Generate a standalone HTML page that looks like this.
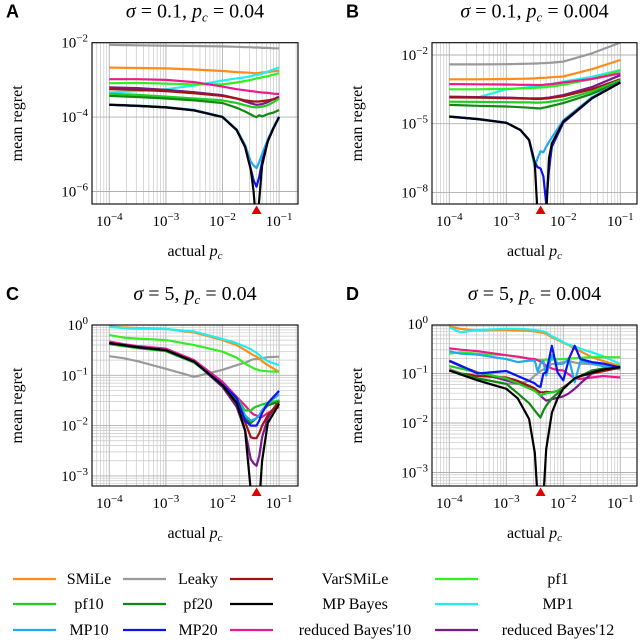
<!DOCTYPE html>
<html><head><meta charset="utf-8"><style>
html,body{margin:0;padding:0;background:#fff;}
svg{display:block;font-family:"Liberation Serif",serif;}
</style></head><body>
<svg id="fig" width="640" height="640" viewBox="0 0 640 640" xmlns="http://www.w3.org/2000/svg"></svg>
<script>
// ---- data (x: log10 actual p_c, y: log10 mean regret) ----
const seriesNames = ["SMiLe","Leaky","VarSMiLe","pf1","pf10","pf20","MP Bayes","MP1","MP10","MP20","reduced Bayes'10","reduced Bayes'12"];
const seriesColors = ["#ff8c1a","#9a9a9a","#a01414","#33ee22","#22cc22","#118811","#000000","#22eeee","#22aaee","#0a14ee","#ee1a8c","#7a1a8a"];

const xA = [-4,-3.5,-3,-2.5,-2,-1.75,-1.6,-1.5,-1.45,-1.4,-1.35,-1.3,-1.2,-1.1,-1];
const A_SMiLe = [-2.67,-2.68,-2.69,-2.72,-2.76,-2.79,-2.8,-2.81,-2.82,-2.82,-2.81,-2.8,-2.79,-2.77,-2.75];
const A_Leaky = [-2.06,-2.07,-2.08,-2.09,-2.1,-2.11,-2.12,-2.12,-2.13,-2.13,-2.13,-2.14,-2.14,-2.15,-2.15];
const A_VarSMiLe = [-3.25,-3.27,-3.3,-3.36,-3.43,-3.5,-3.55,-3.57,-3.58,-3.58,-3.58,-3.57,-3.55,-3.52,-3.48];
const A_pf1 = [-3.09,-3.08,-3.1,-3.12,-3.12,-3.07,-3.03,-3.0,-2.98,-2.96,-2.95,-2.93,-2.9,-2.86,-2.82];
const A_pf10 = [-3.37,-3.4,-3.45,-3.5,-3.55,-3.62,-3.68,-3.72,-3.73,-3.74,-3.73,-3.72,-3.68,-3.6,-3.5];
const A_pf20 = [-3.43,-3.46,-3.5,-3.55,-3.62,-3.75,-3.85,-3.93,-3.97,-4.0,-3.95,-3.98,-3.92,-3.88,-3.81];
const A_MPBayes = [-3.67,-3.7,-3.74,-3.82,-4.0,-4.35,-4.8,-5.42,-6.0,-7.0,-6.2,-5.3,-4.65,-4.3,-4.0];
const A_MP1 = [-3.34,-3.3,-3.25,-3.15,-3.02,-2.96,-2.93,-2.9,-2.88,-2.87,-2.85,-2.83,-2.78,-2.72,-2.67];
const A_MP10 = [-3.66,-3.69,-3.73,-3.81,-3.99,-4.33,-4.75,-5.2,-5.3,-5.37,-5.2,-5.0,-4.6,-4.28,-3.98];
const A_MP20 = [-3.67,-3.7,-3.74,-3.82,-4.0,-4.35,-4.8,-5.4,-5.7,-5.87,-5.6,-5.2,-4.65,-4.3,-4.0];
const A_rB10 = [-2.98,-2.98,-3.0,-3.06,-3.18,-3.25,-3.28,-3.3,-3.31,-3.32,-3.33,-3.34,-3.35,-3.37,-3.38];
const A_rB12 = [-3.2,-3.22,-3.27,-3.33,-3.41,-3.5,-3.58,-3.63,-3.65,-3.67,-3.66,-3.65,-3.6,-3.52,-3.45];

const xB = [-4,-3.5,-3,-2.75,-2.6,-2.5,-2.45,-2.4,-2.35,-2.3,-2.25,-2.2,-2,-1.5,-1];
const B_SMiLe = [-3.06,-3.06,-3.05,-3.04,-3.03,-3.02,-3.01,-3.0,-3.0,-2.99,-2.98,-2.97,-2.94,-2.62,-2.22];
const B_Leaky = [-2.41,-2.41,-2.4,-2.39,-2.38,-2.37,-2.37,-2.36,-2.36,-2.35,-2.34,-2.33,-2.29,-1.93,-1.46];
const B_VarSMiLe = [-3.85,-3.86,-3.88,-3.9,-3.91,-3.92,-3.92,-3.92,-3.91,-3.9,-3.89,-3.87,-3.8,-3.5,-3.06];
const B_pf1 = [-3.5,-3.5,-3.48,-3.46,-3.45,-3.44,-3.43,-3.42,-3.41,-3.4,-3.38,-3.37,-3.3,-3.05,-2.68];
const B_pf10 = [-4.04,-4.05,-4.06,-4.07,-4.07,-4.08,-4.08,-4.08,-4.07,-4.06,-4.05,-4.03,-3.95,-3.6,-3.1];
const B_pf20 = [-4.18,-4.22,-4.25,-4.28,-4.3,-4.32,-4.33,-4.33,-4.3,-4.28,-4.25,-4.22,-4.1,-3.7,-3.16];
const B_MPBayes = [-4.69,-4.8,-4.96,-5.28,-5.71,-6.73,-9,-9,-9,-9,-6.5,-5.86,-4.91,-3.89,-3.2];
const B_MP1 = [-3.82,-3.85,-3.5,-3.45,-3.4,-3.36,-3.35,-3.34,-3.32,-3.3,-3.28,-3.26,-3.16,-2.95,-2.65];
const B_MP10 = [-4.68,-4.79,-4.95,-5.27,-5.71,-6.9,-6.5,-6.2,-6.25,-6.0,-5.8,-5.6,-4.85,-3.85,-3.18];
const B_MP20 = [-4.69,-4.8,-4.96,-5.28,-5.71,-6.7,-6.9,-6.95,-7.3,-8.5,-7.0,-6.0,-4.95,-3.9,-3.2];
const B_rB10 = [-3.27,-3.28,-3.29,-3.3,-3.3,-3.31,-3.31,-3.31,-3.3,-3.29,-3.28,-3.27,-3.2,-3.05,-2.8];
const B_rB12 = [-3.82,-3.84,-3.86,-3.88,-3.89,-3.89,-3.89,-3.89,-3.88,-3.87,-3.86,-3.84,-3.75,-3.4,-2.88];

const xC = [-4,-3.75,-3.5,-3,-2.5,-2,-1.75,-1.6,-1.5,-1.45,-1.4,-1.35,-1.3,-1.2,-1];
const C_SMiLe = [-0.03,-0.05,-0.06,-0.08,-0.15,-0.3,-0.4,-0.5,-0.57,-0.6,-0.63,-0.67,-0.72,-0.8,-0.93];
const C_Leaky = [-0.62,-0.66,-0.72,-0.87,-1.03,-0.89,-0.8,-0.75,-0.7,-0.68,-0.68,-0.67,-0.66,-0.64,-0.63];
const C_VarSMiLe = [-0.36,-0.4,-0.44,-0.5,-0.73,-1.2,-1.55,-1.93,-2.23,-2.25,-2.25,-2.15,-2.0,-1.8,-1.53];
const C_pf1 = [-0.2,-0.25,-0.27,-0.3,-0.4,-0.53,-0.65,-0.77,-0.83,-0.86,-0.88,-0.9,-0.91,-0.92,-0.93];
const C_pf10 = [-0.38,-0.42,-0.46,-0.52,-0.75,-1.18,-1.45,-1.7,-1.7,-1.65,-1.62,-1.6,-1.58,-1.55,-1.5];
const C_pf20 = [-0.37,-0.41,-0.45,-0.51,-0.74,-1.2,-1.5,-1.85,-1.95,-1.9,-1.85,-1.8,-1.7,-1.6,-1.52];
const C_MPBayes = [-0.36,-0.4,-0.44,-0.5,-0.73,-1.2,-1.55,-2.1,-3.3,-3.5,-3.5,-3.5,-2.7,-1.95,-1.57];
const C_MP1 = [-0.04,-0.06,-0.07,-0.08,-0.13,-0.28,-0.36,-0.43,-0.48,-0.52,-0.55,-0.6,-0.65,-0.72,-0.8];
const C_MP10 = [-0.36,-0.4,-0.44,-0.5,-0.73,-1.18,-1.45,-1.8,-1.9,-1.88,-1.85,-1.8,-1.7,-1.55,-1.38];
const C_MP20 = [-0.36,-0.4,-0.44,-0.5,-0.73,-1.18,-1.45,-1.9,-2.0,-2.0,-2.0,-1.9,-1.75,-1.55,-1.31];
const C_rB10 = [-0.33,-0.38,-0.42,-0.47,-0.7,-1.13,-1.43,-1.6,-1.73,-1.78,-1.8,-1.83,-1.83,-1.75,-1.63];
const C_rB12 = [-0.36,-0.4,-0.44,-0.5,-0.73,-1.23,-1.63,-2.1,-2.67,-2.75,-2.8,-2.6,-2.23,-1.85,-1.5];

const xD = [-4,-3.8,-3.5,-3,-2.8,-2.6,-2.5,-2.45,-2.4,-2.35,-2.3,-2.2,-2.1,-2,-1.9,-1.8,-1.7,-1.5,-1.3,-1];
const D_SMiLe = [-0.05,-0.1,-0.13,-0.12,-0.13,-0.14,-0.15,-0.16,-0.17,-0.18,-0.2,-0.27,-0.32,-0.38,-0.43,-0.5,-0.55,-0.67,-0.75,-0.85];
const D_Leaky = [-0.9,-1.0,-1.1,-1.21,-1.21,-1.15,-1.04,-1.0,-0.95,-0.92,-0.88,-0.81,-0.8,-0.77,-0.75,-0.78,-0.8,-0.81,-0.85,-0.92];
const D_VarSMiLe = [-0.94,-1.0,-1.05,-1.08,-1.15,-1.25,-1.3,-1.35,-1.38,-1.38,-1.37,-1.38,-1.35,-1.28,-1.2,-1.1,-1.05,-1.0,-0.95,-0.88];
const D_pf1 = [-0.6,-0.57,-0.6,-0.63,-0.66,-0.7,-0.72,-0.73,-0.73,-0.73,-0.72,-0.72,-0.71,-0.71,-0.7,-0.69,-0.68,-0.67,-0.67,-0.67];
const D_pf10 = [-0.85,-0.9,-0.98,-1.1,-1.2,-1.3,-1.35,-1.4,-1.45,-1.42,-1.4,-1.38,-1.35,-1.3,-1.2,-1.1,-1.05,-0.95,-0.9,-0.85];
const D_pf20 = [-0.94,-1.0,-1.1,-1.21,-1.4,-1.6,-1.75,-1.82,-1.89,-1.75,-1.65,-1.5,-1.4,-1.31,-1.2,-1.1,-1.05,-0.94,-0.9,-0.88];
const D_MPBayes = [-0.94,-1.02,-1.14,-1.31,-1.5,-1.92,-2.6,-3.5,-3.5,-3.5,-2.53,-1.79,-1.5,-1.31,-1.2,-1.1,-1.05,-0.98,-0.92,-0.87];
const D_MP1 = [-0.07,-0.17,-0.12,-0.1,-0.1,-0.11,-0.12,-0.13,-0.14,-0.15,-0.17,-0.25,-0.3,-0.37,-0.42,-0.45,-0.5,-0.57,-0.65,-0.81];
const D_MP10 = [-0.55,-0.6,-0.62,-0.71,-0.77,-0.74,-0.74,-0.96,-0.8,-0.75,-1.04,-0.63,-0.81,-0.8,-0.71,-1.18,-0.75,-0.8,-0.85,-0.88];
const D_MP20 = [-0.74,-0.84,-1.0,-0.95,-1.05,-1.15,-1.2,-1.25,-1.27,-1.0,-0.98,-0.44,-0.98,-1.14,-0.7,-0.44,-0.71,-0.77,-0.8,-0.88];
const D_rB10 = [-0.49,-0.52,-0.55,-0.63,-0.66,-0.7,-0.71,-0.73,-0.76,-0.8,-0.84,-0.9,-0.93,-0.94,-1.02,-1.1,-1.11,-1.08,-1.05,-1.08];
const D_rB12 = [-0.75,-0.85,-0.98,-1.14,-1.2,-1.25,-1.31,-1.38,-1.45,-1.5,-1.55,-1.52,-1.49,-1.46,-1.4,-1.31,-1.2,-1.0,-0.95,-0.88];

const xTickExps = [-4,-3,-2,-1];
const yTicksAB = [[-2,-4,-6],[-2,-5,-8]];
const yTicksCD = [0,-1,-2,-3];
const markerPc = [0.04,0.004,0.04,0.004];

const NS = "http://www.w3.org/2000/svg";
const svg = document.getElementById("fig");
function el(tag, attrs, parent){
  const e = document.createElementNS(NS, tag);
  for (const k in attrs) e.setAttribute(k, attrs[k]);
  (parent||svg).appendChild(e);
  return e;
}

const panels = [
  {id:"a", letter:"A", sig:"0.1", pc:"0.04", bx:92, bw:206, by:42.7, bh:161.3, x0:109.3, dec:56.6, yRef:-2, yRefPx:42.7, ydec:37.2, yt:yTicksAB[0], minorY:false, xs:xA,
   ser:[A_SMiLe,A_Leaky,A_VarSMiLe,A_pf1,A_pf10,A_pf20,A_MPBayes,A_MP1,A_MP10,A_MP20,A_rB10,A_rB12]},
  {id:"b", letter:"B", sig:"0.1", pc:"0.004", bx:432, bw:205, by:42.7, bh:161.3, x0:449.3, dec:57, yRef:-2, yRefPx:55, ydec:22.9, yt:yTicksAB[1], minorY:false, xs:xB,
   ser:[B_SMiLe,B_Leaky,B_VarSMiLe,B_pf1,B_pf10,B_pf20,B_MPBayes,B_MP1,B_MP10,B_MP20,B_rB10,B_rB12]},
  {id:"c", letter:"C", sig:"5", pc:"0.04", bx:92, bw:206, by:325, bh:161, x0:109.3, dec:56.6, yRef:0, yRefPx:325, ydec:50.3, yt:yTicksCD, minorY:true, xs:xC,
   ser:[C_SMiLe,C_Leaky,C_VarSMiLe,C_pf1,C_pf10,C_pf20,C_MPBayes,C_MP1,C_MP10,C_MP20,C_rB10,C_rB12]},
  {id:"d", letter:"D", sig:"5", pc:"0.004", bx:432, bw:205, by:325, bh:161, x0:449.3, dec:57, yRef:0, yRefPx:324, ydec:49.5, yt:yTicksCD, minorY:true, xs:xD,
   ser:[D_SMiLe,D_Leaky,D_VarSMiLe,D_pf1,D_pf10,D_pf20,D_MPBayes,D_MP1,D_MP10,D_MP20,D_rB10,D_rB12]}
];
const drawOrder = [1,0,7,3,10,11,2,4,5,8,9,6];

panels.forEach((p, pi) => {
  const X = e => p.x0 + (e + 4) * p.dec;
  const Y = e => p.yRefPx + (p.yRef - e) * p.ydec;
  const g = el("g", {});
  
  
  const defs = el("defs", {}, g);
  const cp = el("clipPath", {id:"clip"+p.id}, defs);
  el("rect", {x:p.bx, y:p.by, width:p.bw, height:p.bh}, cp);
  const grid = el("g", {"clip-path":"url(#clip"+p.id+")"}, g);
  
  
  for (let d = -5; d <= 0; d++) for (let m = 1; m <= 9; m++) {
    const xx = X(d + Math.log10(m));
    el("line", {x1:xx, x2:xx, y1:p.by, y2:p.by+p.bh, stroke: m===1?"#b0b0b0":"#c8c8c8", "stroke-width": m===1?0.9:0.7}, grid);
  }
  const yLo = Math.floor(p.yRef - (p.by + p.bh - p.yRefPx)/p.ydec) - 1;
  for (let d = yLo; d <= 1; d++) {
    const yy = Y(d);
    if (p.minorY) {
      for (let m = 1; m <= 9; m++) {
        const ym = Y(d + Math.log10(m));
        el("line", {x1:p.bx, x2:p.bx+p.bw, y1:ym, y2:ym, stroke: m===1?"#b0b0b0":"#c8c8c8", "stroke-width": m===1?0.9:0.7}, grid);
      }
    } else if (p.yt.includes(d)) {
      el("line", {x1:p.bx, x2:p.bx+p.bw, y1:yy, y2:yy, stroke:"#b0b0b0", "stroke-width":0.9}, grid);
    }
  }
  const lines = el("g", {"clip-path":"url(#clip"+p.id+")"}, g);
  drawOrder.forEach(si => {
    const vals = p.ser[si];
    const d = vals.map((v,i) => (i?"L":"M") + X(p.xs[i]).toFixed(1) + "," + Y(v).toFixed(1)).join(" ");
    const path = el("path", {d:d, fill:"none", stroke:seriesColors[si], "stroke-width":2.2, "stroke-linejoin":"round"}, lines);
    
    
  });
  const frame = el("rect", {x:p.bx, y:p.by, width:p.bw, height:p.bh, fill:"none", stroke:"#000", "stroke-width":1.1}, g);
  
  
  const base = p.by + p.bh;
  xTickExps.forEach(e => {
    const t = el("text", {x:X(e), y:base+22, "text-anchor":"middle", "font-size":15}, g);
    
    
    t.appendChild(document.createTextNode("10"));
    const s = el("tspan", {dy:-6, "font-size":11}, t);
    s.textContent = "\u2212" + Math.abs(e);
  });
  p.yt.forEach(e => {
    const t = el("text", {x:p.bx-4, y:Y(e)+5, "text-anchor":"end", "font-size":15}, g);
    
    
    t.appendChild(document.createTextNode("10"));
    const s = el("tspan", {dy:-6, "font-size":11}, t);
    s.textContent = e===0 ? "0" : "\u2212" + Math.abs(e);
  });
  const mx = X(Math.log10(markerPc[pi]));
  const tri = el("polygon", {points:(mx-5)+","+(base+10)+" "+(mx+5)+","+(base+10)+" "+mx+","+(base+1.5), fill:"#e00000"}, g);
  
  
  const cx = p.bx + p.bw/2;
  const lt = el("text", {x:p.bx-86, y:p.by-25, "font-size":18, "font-weight":"bold", "font-family":"Liberation Sans, sans-serif"}, g);
  
  
  lt.textContent = p.letter;
  const tt = el("text", {x:cx, y:p.by-25, "text-anchor":"middle", "font-size":20}, g);
  
  
  tt.innerHTML = '<tspan font-style="italic">σ</tspan> = ' + p.sig + ', <tspan font-style="italic">p</tspan><tspan font-size="13" dy="4" font-style="italic">c</tspan><tspan dy="-4"> = ' + p.pc + '</tspan>';
  const xl = el("text", {x:cx, y:base+52, "text-anchor":"middle", "font-size":16}, g);
  
  
  xl.innerHTML = 'actual <tspan font-style="italic">p</tspan><tspan font-size="11" dy="3" font-style="italic">c</tspan>';
  const yx = p.bx - 70, yy = p.by + p.bh/2;
  const yl = el("text", {x:yx, y:yy, "text-anchor":"middle", "font-size":16, transform:"rotate(-90 "+yx+" "+yy+")"}, g);
  
  
  yl.textContent = "mean regret";
});

// legend
const legOrder = [0,1,2,3,4,5,6,7,8,9,10,11];
const legLineX = [13,123,230,435];
const legTextX = [89,198,355,558];
const legRowY = [579,604,630];
const leg = el("g", {});


legOrder.forEach((si, k) => {
  const r = Math.floor(k/4), c = k%4;
  const ent = el("g", {}, leg);
  
  
  el("line", {x1:legLineX[c], x2:legLineX[c]+43, y1:legRowY[r], y2:legRowY[r], stroke:seriesColors[si], "stroke-width":2.2}, ent);
  const t = el("text", {x:legTextX[c], y:legRowY[r]+5, "text-anchor":"middle", "font-size":16}, ent);
  t.textContent = seriesNames[si];
});
</script>
</body></html>
